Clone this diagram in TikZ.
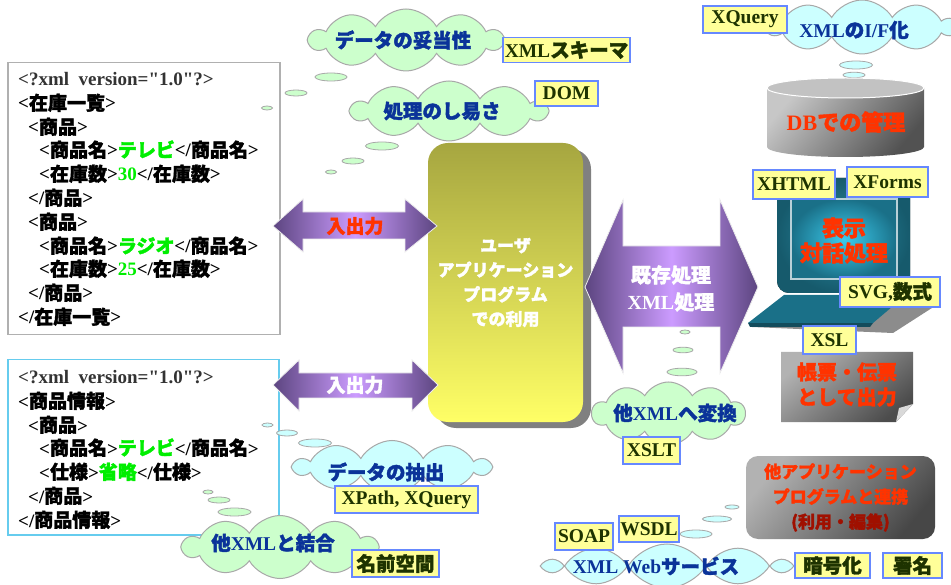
\documentclass[tikz,border=0pt]{standalone}
\usepackage{fontspec}
\setmainfont{Liberation Serif}
\newfontfamily\jpf{Noto Sans CJK JP}[BoldFeatures={FakeBold=1.8}]
\usetikzlibrary{shapes.symbols,shadows}
\newcommand\J[1]{{\jpf\bfseries #1}}
% straight double quote taken directly from the font, bypassing the TeX quote mapping
\newcommand\dq{\XeTeXglyph\XeTeXglyphindex "quotedbl"\relax}

\definecolor{cloudgreen}{HTML}{CCFFCC}
\definecolor{cloudcyan}{HTML}{CCFFFF}
\definecolor{cloudline}{HTML}{A8A8A8}
\definecolor{cloudtext}{HTML}{0A3399}
\definecolor{tagfill}{HTML}{FFFF99}
\definecolor{tagline}{HTML}{6688FF}
\definecolor{tagtext}{HTML}{1E3300}
\definecolor{hot}{HTML}{FF3300}
\definecolor{darkhot}{HTML}{A01000}
\definecolor{valgreen}{HTML}{00EE00}
\definecolor{declgray}{HTML}{333333}
\definecolor{arrowdark}{HTML}{5C4580}
\definecolor{arrowlight}{HTML}{CC9CFF}
\definecolor{apptop}{HTML}{A6A640}
\definecolor{appbottom}{HTML}{FFFF66}
\definecolor{stockline}{HTML}{B0B0B0}
\definecolor{infoline}{HTML}{66CCEE}
\definecolor{framedark}{HTML}{165A6C}
\definecolor{framelight}{HTML}{2A8FA8}
\definecolor{screenlight}{HTML}{3CCCEE}
\definecolor{screendark}{HTML}{1A7088}
\definecolor{screenrim}{HTML}{B8D0D8}

\tikzset{
  xmlline/.style={anchor=base west, inner sep=0pt, font=\fontsize{19}{20}\selectfont\bfseries},
  tag/.style={draw=tagline, fill=tagfill, line width=1.2pt, inner sep=0pt,
    text=tagtext, font=\fontsize{19.5}{20}\selectfont\bfseries},
  puff/.style={cloud, cloud puffs=10, cloud puff arc=120, cloud ignores aspect,
    draw=cloudline, line width=1pt, inner sep=0pt},
  greencloud/.style={puff, fill=cloudgreen},
  cyancloud/.style={puff, fill=cloudcyan},
  cloudlabel/.style={inner sep=0pt, text=cloudtext, font=\fontsize{19.5}{20}\selectfont\bfseries},
  gbubble/.style={fill=cloudgreen, draw=cloudline, line width=0.8pt},
  cbubble/.style={fill=cloudcyan, draw=cloudline, line width=0.8pt},
  fatarrow/.style={left color=arrowdark, right color=arrowdark, middle color=arrowlight,
    draw=white!85!gray, line width=0.8pt},
  arrowlabel/.style={inner sep=0pt, font=\fontsize{19}{27}\selectfont\bfseries, align=center},
}

\begin{document}
\begin{tikzpicture}[x=1pt,y=-1pt]
\useasboundingbox (0,0) rectangle (951,585);
\fill[white] (0,0) rectangle (951,585);

% ---------- XML documents ----------
\node[draw=stockline, line width=1.5pt, minimum width=272pt, minimum height=272pt,
  anchor=north west, inner sep=0pt] (stock) at (7,62) {};
\node[xmlline, text=declgray] (s1) at (18,86) {<?xml\ \ version=\dq 1.0\dq?>};
\node[xmlline] (s2) at (18,110) {<\J{在庫一覧}>};
\node[xmlline] (s3) at (28,134) {<\J{商品}>};
\node[xmlline] (s4) at (39,157) {<\J{商品名}>\textcolor{valgreen}{\J{テレビ}}</\J{商品名}>};
\node[xmlline] (s5) at (39,181) {<\J{在庫数}>\textcolor{valgreen}{30}</\J{在庫数}>};
\node[xmlline] (s6) at (28,205) {</\J{商品}>};
\node[xmlline] (s7) at (28,229) {<\J{商品}>};
\node[xmlline] (s8) at (39,253) {<\J{商品名}>\textcolor{valgreen}{\J{ラジオ}}</\J{商品名}>};
\node[xmlline] (s9) at (39,276) {<\J{在庫数}>\textcolor{valgreen}{25}</\J{在庫数}>};
\node[xmlline] (s10) at (28,300) {</\J{商品}>};
\node[xmlline] (s11) at (18,324) {</\J{在庫一覧}>};

\node[draw=infoline, line width=1.5pt, minimum width=271pt, minimum height=175pt,
  anchor=north west, inner sep=0pt] (info) at (7,359) {};
\node[xmlline, text=declgray] (p1) at (18,384) {<?xml\ \ version=\dq 1.0\dq?>};
\node[xmlline] (p2) at (18,408) {<\J{商品情報}>};
\node[xmlline] (p3) at (28,432) {<\J{商品}>};
\node[xmlline] (p4) at (39,455) {<\J{商品名}>\textcolor{valgreen}{\J{テレビ}}</\J{商品名}>};
\node[xmlline] (p5) at (39,479) {<\J{仕様}>\textcolor{valgreen}{\J{省略}}</\J{仕様}>};
\node[xmlline] (p6) at (28,503) {</\J{商品}>};
\node[xmlline] (p7) at (18,527) {</\J{商品情報}>};

% ---------- application block ----------
\node[rounded corners=20pt, minimum width=155pt, minimum height=279pt, inner sep=0pt,
  top color=apptop, bottom color=appbottom,
  drop shadow={shadow xshift=8pt, shadow yshift=-6pt, fill=gray, opacity=1},
  text=white, align=center, font=\fontsize{17}{24.5}\selectfont]
  (app) at (505.5,282.5) {\J{ユーザ}\\\J{アプリケーション}\\\J{プログラム}\\\J{での利用}};

% ---------- double arrows ----------
\path[fatarrow] (273,226) -- (303,199) -- (303,212) -- (405,212) -- (405,199) -- (437,226)
  -- (405,252) -- (405,239) -- (303,239) -- (303,252) -- cycle;
\node[arrowlabel, text=hot] (io1) at (355,226) {\J{入出力}};

\path[fatarrow] (273,385) -- (299,360) -- (299,373) -- (412,373) -- (412,360) -- (438,385)
  -- (412,411) -- (412,398) -- (299,398) -- (299,411) -- cycle;
\node[arrowlabel, text=white] (io2) at (355,385) {\J{入出力}};

\path[fatarrow] (585,287) -- (623,200) -- (623,246) -- (720,246) -- (720,200) -- (758,287)
  -- (720,373) -- (720,327) -- (623,327) -- (623,373) -- cycle;
\node[arrowlabel, text=white, font=\fontsize{20}{27}\selectfont\bfseries] (conv) at (671,288.5)
  {\J{既存処理}\\XML\J{処理}};

% ---------- database ----------
\foreach \x/\y/\w/\h in {856/65/16.5/4, 854/75/11/2.8, 853/82/5.5/2}
  \draw[cbubble] (\x,\y) ellipse [x radius=\w, y radius=\h];
\shade[top color=black!22, bottom color=black!68, shading angle=50]
  (767,88) -- (767,147) arc[start angle=180, end angle=0, x radius=78.5, y radius=10]
  -- (924,88) -- cycle;
\filldraw[fill=black!24, draw=white, line width=1pt] (845.5,88) ellipse [x radius=78.5, y radius=10];
\node[inner sep=0pt, text=hot, font=\fontsize{22}{24}\selectfont\bfseries] (db) at (846,122) {DB\J{での管理}};

% ---------- terminal ----------
\fill[rounded corners=12pt, inner color=framelight, outer color=framedark]
  (777,178) rectangle (910,293);
\filldraw[inner color=screenlight, outer color=screendark, draw=screenrim, line width=1.5pt]
  (791,199) rectangle (897,279);
\node[inner sep=0pt, text=hot, align=center, font=\fontsize{22}{25}\selectfont]
  (screen) at (844,240.5) {\J{表示}\\\J{対話処理}};
\fill[black!45] (790,299) -- (935,306) -- (893,333) -- (752,327) -- cycle;
\fill[framedark!85!black] (748,323) -- (873,323) -- (870,327) -- (750,327) -- cycle;
\shade[left color=screendark, middle color=screenlight, right color=screendark]
  (784,295) -- (906,295) -- (873,323) -- (748,323) -- cycle;

% ---------- printed output ----------
\shade[top color=black!30, bottom color=black!70, shading angle=40]
  (781,352) -- (913,352) -- (913,404) -- (896,422) -- (781,422) -- cycle;
\fill[black!15] (913,404) -- (896,422) -- (899,408) -- cycle;
\node[inner sep=0pt, text=hot, align=center, font=\fontsize{20}{25}\selectfont]
  (print) at (847,384.5) {\J{帳票・伝票}\\\J{として出力}};

% ---------- linked applications ----------
\node[rounded corners=12pt, minimum width=189pt, minimum height=83pt, inner sep=0pt,
  top color=black!30, bottom color=black!72, shading angle=50,
  align=center, font=\fontsize{17}{25}\selectfont]
  (coop) at (840.5,497.5)
  {\textcolor{hot}{\J{他アプリケーション}}\\\textcolor{hot}{\J{プログラムと連携}}\\\textcolor{darkhot}{\J{(利用・編集)}}};

% ---------- thought bubbles ----------
\foreach \x/\y/\w/\h in {331/77/16/4, 296/93/11/3, 267/108/5.5/2,
                         382/146/16.5/4, 353/161/11/3, 331/172/5.5/2,
                         685/332/5/2, 683/350/10/2.8, 682/372/15/3.8,
                         208/492/5/2, 219/500/11/3, 234.5/512/16.5/4}
  \draw[gbubble] (\x,\y) ellipse [x radius=\w, y radius=\h];
\foreach \x/\y/\w/\h in {267.5/425/5.5/2, 287/433/10.5/3, 315/443/16.5/4,
                         732/507/7/2, 717/519/14.5/3, 696/534/16/4}
  \draw[cbubble] (\x,\y) ellipse [x radius=\w, y radius=\h];

% ---------- clouds ----------
\node[greencloud, minimum width=193pt, minimum height=62pt] (valid) at (406,40) {};
\node[cloudlabel] (validtxt) at (403,40) {\J{データの妥当性}};
\node[greencloud, minimum width=195pt, minimum height=60pt] (ease) at (449,111) {};
\node[cloudlabel] (easetxt) at (442,111) {\J{処理のし易さ}};
\node[cyancloud, minimum width=190pt, minimum height=54pt] (xmlif) at (862,27) {};
\node[cloudlabel] (xmliftxt) at (854,30) {XML\J{の}I/F\J{化}};
\node[greencloud, minimum width=153pt, minimum height=63pt] (other) at (668.5,413.5) {};
\node[cloudlabel] (othertxt) at (675,413) {\J{他}XML\J{へ変換}};
\node[cyancloud, minimum width=195pt, minimum height=53pt] (extract) at (392,467) {};
\node[cloudlabel] (extracttxt) at (386,472) {\J{データの抽出}};
\node[greencloud, minimum width=194pt, minimum height=63pt] (join) at (280,547) {};
\node[cloudlabel] (jointxt) at (273,543) {\J{他}XML\J{と結合}};
\node[cyancloud, minimum width=241pt, minimum height=44pt] (ws) at (667,566) {};
\node[cloudlabel] (wstxt) at (656,566) {XML Web\J{サービス}};

% ---------- technology tags ----------
\node[tag, minimum width=127pt, minimum height=25pt] (xsd) at (566.5,50) {XML\J{スキーマ}};
\node[tag, minimum width=63pt, minimum height=25pt] (dom) at (566.5,93.5) {DOM};
\node[tag, minimum width=84pt, minimum height=27pt] (xquery) at (745,19.5) {XQuery};
\node[tag, minimum width=82pt, minimum height=29pt] (xhtml) at (794,184.5) {XHTML};
\node[tag, minimum width=81pt, minimum height=30pt] (xforms) at (887.5,182) {XForms};
\node[tag, minimum width=100pt, minimum height=30pt] (svg) at (890,292) {SVG,\J{数式}};
\node[tag, minimum width=53pt, minimum height=28pt] (xsl) at (829.5,340) {XSL};
\node[tag, minimum width=57pt, minimum height=27pt] (xslt) at (651.5,450.5) {XSLT};
\node[tag, minimum width=143pt, minimum height=27pt] (xpath) at (406.5,499.5) {XPath, XQuery};
\node[tag, minimum width=87pt, minimum height=27pt] (ns) at (395.5,563.5) {\J{名前空間}};
\node[tag, minimum width=58pt, minimum height=27pt] (soap) at (584,536.5) {SOAP};
\node[tag, minimum width=60pt, minimum height=26pt] (wsdl) at (649,529) {WSDL};
\node[tag, minimum width=75pt, minimum height=25pt] (enc) at (832.5,565.5) {\J{暗号化}};
\node[tag, minimum width=59pt, minimum height=25pt] (sig) at (912.5,565.5) {\J{署名}};
\end{tikzpicture}
\end{document}
